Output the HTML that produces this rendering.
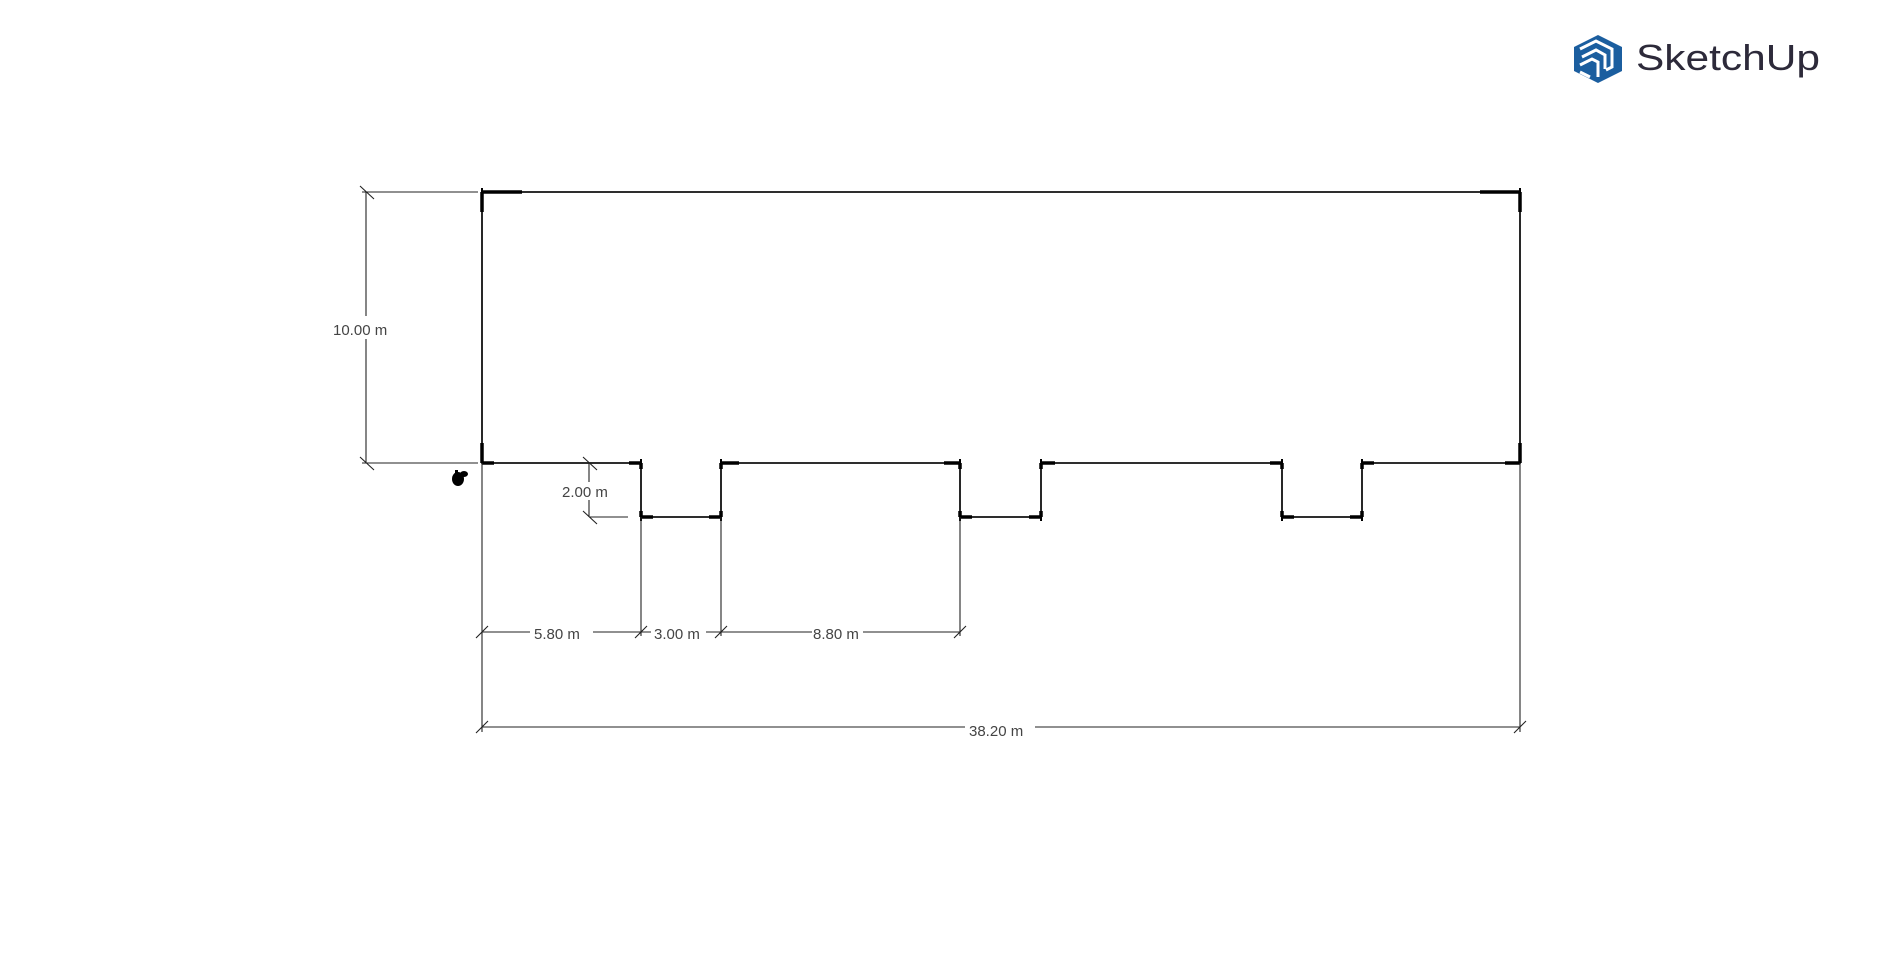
<!DOCTYPE html>
<html><head><meta charset="utf-8"><style>
html,body{margin:0;padding:0;background:#fff;width:1885px;height:953px;overflow:hidden}
svg{display:block}
text{font-family:"Liberation Sans",sans-serif;fill:#444;font-size:15px}
</style></head><body>
<svg width="1885" height="953" viewBox="0 0 1885 953" xmlns="http://www.w3.org/2000/svg">
<g stroke="#111" stroke-width="1.8" fill="none">
<path d="M482 192 H1520 V463 H1362 V517 H1282 V463 H1041 V517 H960 V463 H721 V517 H641 V463 H482 Z"/>
</g>
<g stroke="#000" stroke-width="3.5" fill="none">
<path d="M482 192 h40 M482 192 v20 M1520 192 h-40 M1520 192 v20"/>
<path d="M482 463 h12 M482 463 v-20 M1520 463 h-15 M1520 463 v-20"/>
<path d="M641 463 h-12 M641 463 v6 M641 517 h12 M641 517 v-6"/>
<path d="M721 463 h18 M721 463 v6 M721 517 h-12 M721 517 v-6"/>
<path d="M960 463 h-16 M960 463 v6 M960 517 h12 M960 517 v-6"/>
<path d="M1041 463 h14 M1041 463 v6 M1041 517 h-12 M1041 517 v-6"/>
<path d="M1282 463 h-12 M1282 463 v6 M1282 517 h12 M1282 517 v-6"/>
<path d="M1362 463 h12 M1362 463 v6 M1362 517 h-12 M1362 517 v-6"/>
</g>
<g stroke="#000" stroke-width="2">
<path d="M482 188 v8 M1520 188 v8 M641 459 v8 M721 459 v8 M960 459 v8 M1041 459 v8 M1282 459 v8 M1362 459 v8"/>
<path d="M641 513 v8 M721 513 v8 M960 513 v8 M1041 513 v8 M1282 513 v8 M1362 513 v8"/>
</g>
<g stroke="#222" stroke-width="1.1" fill="none">
<path d="M362 192 H478 M362 463 H478"/>
<path d="M366 192 V316 M366 339 V463"/>
<path d="M360 186 l14 13 M360 457 l14 13"/>
<path d="M589 463 V482 M589 500 V517 M589 517 H628"/>
<path d="M583 457 l14 13 M583 511 l14 13"/>
<path d="M482 463 V732 M641 517 V636 M721 517 V636 M960 517 V636 M1520 463 V732"/>
<path d="M482 632 H530 M593 632 H641 M641 632 H651 M706 632 H721 M721 632 H812 M863 632 H960"/>
<path d="M476 638 l12 -12 M635 638 l12 -12 M715 638 l12 -12 M954 638 l12 -12"/>
<path d="M482 727 H965 M1035 727 H1520"/>
<path d="M476 733 l12 -12 M1514 733 l12 -12"/>
</g>
<text x="333" y="335">10.00 m</text>
<text x="562" y="497">2.00 m</text>
<text x="534" y="639">5.80 m</text>
<text x="654" y="639">3.00 m</text>
<text x="813" y="639">8.80 m</text>
<text x="969" y="736">38.20 m</text>
<g fill="#000">
<ellipse cx="458" cy="479" rx="6" ry="7"/>
<ellipse cx="464" cy="474" rx="4" ry="3"/>
<rect x="455" y="470" width="3" height="3"/>
</g>
<g transform="translate(1574,35)">
<polygon points="24,0 48,12 48,36 24,48 0,36 0,12" fill="#1b5e9f"/>
<g stroke="#fff" stroke-width="3" fill="none">
<path d="M6 14 L22 6 L38 14 L38 32 L32 35"/>
<path d="M8 22 L22 15 L31 20 L31 34"/>
<path d="M6 30 L18 24 L24 27 L24 42"/>
<path d="M6 37 L16 42"/>
</g>
</g>
<text x="1636" y="70" textLength="184" lengthAdjust="spacingAndGlyphs" style="font-size:36px;fill:#2d2a3a">SketchUp</text>
</svg>
</body></html>
